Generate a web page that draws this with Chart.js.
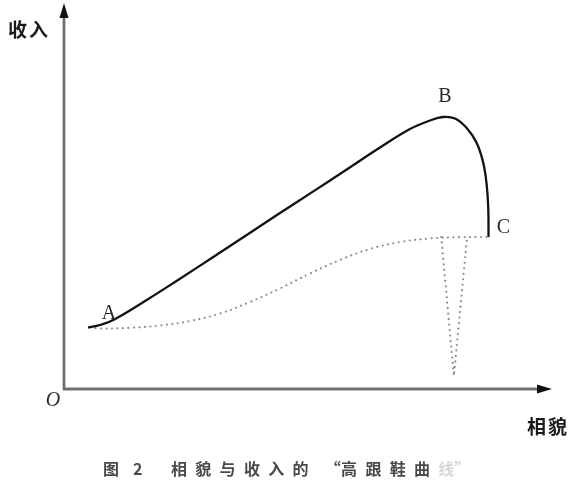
<!DOCTYPE html>
<html>
<head>
<meta charset="utf-8">
<script src="https://cdn.jsdelivr.net/npm/chart.js@4.4.1/dist/chart.umd.min.js"></script>
<style>
  html, body { margin: 0; padding: 0; background: #fff; }
  #wrap { width: 582px; height: 487px; position: relative; }
</style>
</head>
<body>
<div id="wrap"><canvas id="chart"></canvas></div>
<script>
// 相貌 (x) vs 收入 (y), arbitrary units 0-100
var incomeCurveX = [4.92, 7.38, 10.10, 16.95, 23.77, 30.59, 37.44, 44.26, 51.09, 57.93, 64.75, 70.90, 75.00, 77.66, 80.12, 82.52, 84.57, 85.92, 86.62, 86.95, 86.99];
var incomeCurveY = [15.93, 16.58, 17.88, 23.06, 28.58, 34.20, 39.90, 45.60, 51.19, 56.87, 62.56, 67.36, 69.56, 70.47, 70.08, 67.62, 63.73, 58.55, 52.85, 46.37, 39.38];

var baseCurveX = [5.33, 7.38, 13.52, 19.67, 25.82, 31.97, 38.11, 44.26, 50.41, 56.56, 62.70, 68.85, 75.00, 81.15, 86.89];
var baseCurveY = [15.93, 15.67, 15.85, 16.45, 17.62, 19.56, 22.54, 26.04, 29.92, 33.42, 36.27, 38.08, 38.99, 39.33, 39.38];

var heelX = [77.3, 79.9, 82.6];
var heelY = [39.38, 3.4, 39.38];

var pointNames = ['A', 'B', 'C'];
var pointX = [5.33, 77.66, 86.99];
var pointY = [15.93, 70.47, 39.38];

function toPoints(xs, ys) {
  return xs.map(function (x, i) { return { x: x, y: ys[i] }; });
}

var axesPlugin = {
  id: 'axesPlugin',
  afterDraw: function (chart) {
    var ctx = chart.ctx;
    var a = chart.chartArea;
    var xs = chart.scales.x, ys = chart.scales.y;
    var ox = xs.getPixelForValue(0), oy = ys.getPixelForValue(0);

    ctx.save();
    // axes
    ctx.strokeStyle = '#707070';
    ctx.lineWidth = 2.8;
    ctx.beginPath();
    ctx.moveTo(ox, oy + 1);
    ctx.lineTo(ox, a.top + 10);
    ctx.moveTo(ox - 1, oy);
    ctx.lineTo(a.right - 10, oy);
    ctx.stroke();

    // arrow heads
    ctx.fillStyle = '#111';
    ctx.beginPath();
    ctx.moveTo(ox, a.top);
    ctx.lineTo(ox - 4.5, a.top + 15);
    ctx.lineTo(ox + 4.5, a.top + 15);
    ctx.closePath();
    ctx.fill();
    ctx.beginPath();
    ctx.moveTo(a.right, oy);
    ctx.lineTo(a.right - 15, oy - 4.5);
    ctx.lineTo(a.right - 15, oy + 4.5);
    ctx.closePath();
    ctx.fill();

    // point labels
    ctx.fillStyle = '#2a2a2a';
    ctx.font = '20px "Liberation Serif", "DejaVu Serif", serif';
    ctx.textAlign = 'center';
    ctx.textBaseline = 'middle';
    var offs = [[19, -15], [2, -21], [15, -10]];
    pointNames.forEach(function (n, i) {
      var px = xs.getPixelForValue(pointX[i]) + offs[i][0];
      var py = ys.getPixelForValue(pointY[i]) + offs[i][1];
      ctx.fillText(n, px, py + 1);
    });

    // origin
    ctx.font = 'italic 20px "Liberation Serif", "DejaVu Serif", serif';
    ctx.fillText('O', ox - 11, oy + 12);

    // axis titles
    ctx.fillStyle = '#1a1a1a';
    ctx.font = 'bold 19px "Noto Sans CJK SC", sans-serif';
    ctx.textAlign = 'left';
    ctx.fillText('收', 8, 30);
    ctx.fillText('入', 29, 30);
    ctx.fillText('相', 527, 427);
    ctx.fillText('貌', 548, 427);

    // caption
    ctx.font = 'bold 16px "Noto Sans CJK SC", sans-serif';
    ctx.fillStyle = '#4a4a4a';
    ctx.fillText('图', 103, 469);
    ctx.fillText('2', 133, 469);
    var phrase = Array.from('相貌与收入的“高跟鞋曲');
    phrase.forEach(function (ch, i) {
      var x = 171 + i * 24.3;
      if (ch === '“') x += 8;
      ctx.fillText(ch, x, 469);
    });
    ctx.fillStyle = '#d6d6d6';
    ctx.fillText('线”', 171 + phrase.length * 24.3, 469);
    ctx.restore();
  }
};

var ctx = document.getElementById('chart').getContext('2d');
var dotted = {
  borderColor: '#8c8c8c',
  borderWidth: 2.2,
  borderDash: [0, 5.5],
  borderCapStyle: 'round'
};
var chart = new Chart(ctx, {
  type: 'scatter',
  data: {
    datasets: [
      {
        label: '收入曲线',
        data: toPoints(incomeCurveX, incomeCurveY),
        showLine: true,
        borderColor: '#111',
        borderWidth: 2.3,
        pointRadius: 0,
        tension: 0.4,
        fill: false
      },
      Object.assign({
        label: '基线',
        data: toPoints(baseCurveX, baseCurveY),
        showLine: true,
        pointRadius: 0,
        tension: 0.4,
        fill: false
      }, dotted),
      Object.assign({
        label: '鞋跟',
        data: toPoints(heelX, heelY),
        showLine: true,
        pointRadius: 0,
        tension: 0,
        fill: false
      }, dotted)
    ]
  },
  options: {
    responsive: true,
    maintainAspectRatio: false,
    animation: false,
    layout: { padding: { left: 64, right: 30, top: 3, bottom: 98 } },
    plugins: {
      legend: { display: false },
      tooltip: { enabled: false }
    },
    scales: {
      x: { type: 'linear', min: 0, max: 100, display: false },
      y: { type: 'linear', min: 0, max: 100, display: false }
    }
  },
  plugins: [axesPlugin]
});
</script>
</body>
</html>
